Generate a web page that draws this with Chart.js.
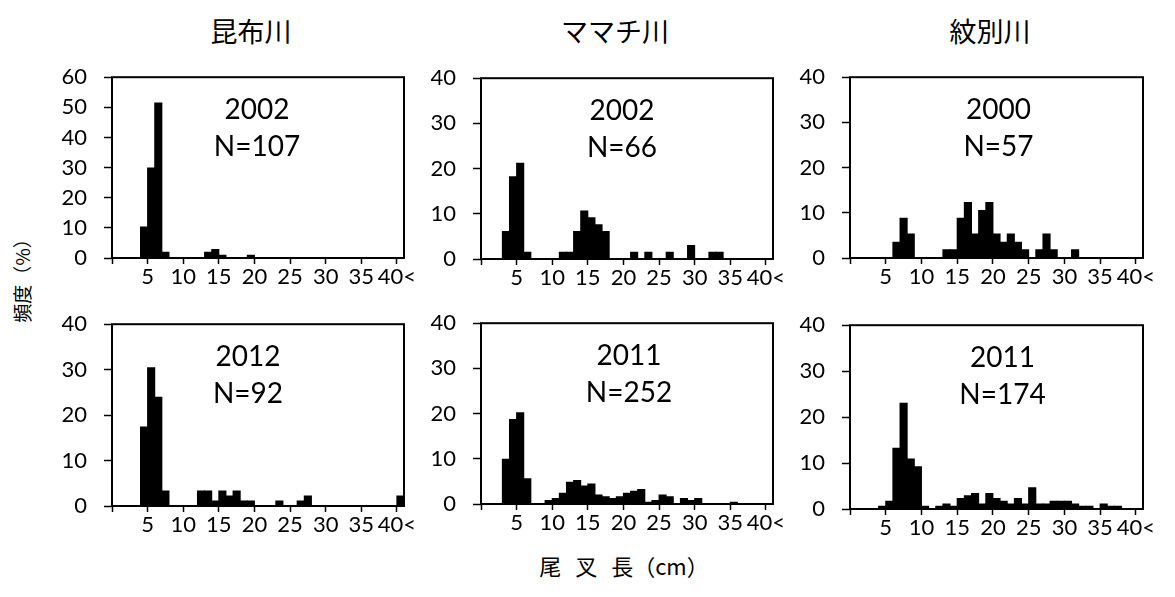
<!DOCTYPE html>
<html>
<head>
<meta charset="utf-8">
<script src="https://cdn.jsdelivr.net/npm/chart.js@4"></script>
<style>
body { margin: 0; background: #fff; width: 1175px; height: 597px; position: relative; overflow: hidden; font-family: "Noto Sans CJK JP", sans-serif; }
canvas { position: absolute; }
.t { position: absolute; color: #000; white-space: nowrap; transform: translate(-50%, -50%); line-height: 1; }
.yt { transform: translate(-50%, -50%) rotate(-90deg); }
</style>
</head>
<body>
<div class="t" style="left:251px;top:30px;font-size:27px">昆布川</div>
<div class="t" style="left:615px;top:30px;font-size:27px">ママチ川</div>
<div class="t" style="left:990px;top:30px;font-size:27px">紋別川</div>
<div class="t yt" style="left:21px;top:276px;font-size:19px">頻度（%）</div>
<div class="t" style="left:624px;top:565px;font-size:22px;word-spacing:9px">尾 叉 長（cm）</div>

<canvas id="c1"></canvas>
<canvas id="c2"></canvas>
<canvas id="c3"></canvas>
<canvas id="c4"></canvas>
<canvas id="c5"></canvas>
<canvas id="c6"></canvas>

<script>
// x axis: 41 bins of 1 cm, last one is "40<"
var xTicks = [0, 5, 10, 15, 20, 25, 30, 35, 40];
var xTickLabels = ['', '5', '10', '15', '20', '25', '30', '35', '40<'];

// 昆布川 2002, N=107 (%)
var konbu2002 = [0, 0, 0, 0, 10.3, 29.9, 51.4, 1.9, 0, 0, 0, 0, 0, 1.9, 2.8, 0.9, 0, 0, 0, 0.9,
    0, 0, 0, 0, 0, 0, 0, 0, 0, 0, 0, 0, 0, 0, 0, 0, 0, 0, 0, 0, 0];
// ママチ川 2002, N=66
var mamachi2002 = [0, 0, 0, 6.1, 18.2, 21.2, 1.5, 0, 0, 0, 0, 1.5, 1.5, 6.1, 10.6, 9.1, 7.6, 6.1, 0, 0,
    0, 1.5, 0, 1.5, 0, 0, 1.5, 0, 0, 3.0, 0, 0, 1.5, 1.5, 0, 0, 0, 0, 0, 0, 0];
// 紋別川 2000, N=57
var mombetsu2000 = [0, 0, 0, 0, 0, 0, 3.5, 8.8, 5.3, 0, 0, 0, 0, 1.8, 1.8, 8.8, 12.3, 5.3, 10.5, 12.3,
    5.3, 3.5, 5.3, 3.5, 1.8, 0, 1.8, 5.3, 1.8, 0, 0, 1.8, 0, 0, 0, 0, 0, 0, 0, 0, 0];
// 昆布川 2012, N=92
var konbu2012 = [0, 0, 0, 0, 17.4, 30.4, 23.9, 3.3, 0, 0, 0, 0, 3.3, 3.3, 1.1, 3.3, 2.2, 3.3, 1.1, 1.1,
    0, 0, 0, 1.1, 0, 0, 1.1, 2.2, 0, 0, 0, 0, 0, 0, 0, 0, 0, 0, 0, 0, 2.2];
// ママチ川 2011, N=252
var mamachi2011 = [0, 0, 0, 9.9, 18.7, 20.2, 5.6, 0, 0, 0.8, 1.2, 2.4, 4.8, 5.2, 4.0, 4.4, 2.0, 1.6, 1.2, 1.6,
    2.4, 2.8, 3.2, 0.4, 0.8, 2.0, 1.6, 0, 1.2, 0.8, 1.2, 0, 0, 0, 0, 0.4, 0, 0, 0, 0, 0];
// 紋別川 2011, N=174
var mombetsu2011 = [0, 0, 0, 0, 0.6, 1.7, 13.2, 23.0, 10.9, 9.2, 0.6, 0, 0.6, 1.1, 0.6, 2.3, 2.9, 3.4, 1.1, 3.4,
    2.3, 1.7, 1.1, 2.3, 1.1, 4.6, 1.1, 1.1, 1.7, 1.7, 1.7, 1.1, 0.6, 0.6, 0, 1.1, 0.6, 0.6, 0, 0, 0];

var years = ['2002', '2002', '2000', '2012', '2011', '2011'];
var counts = ['N=107', 'N=66', 'N=57', 'N=92', 'N=252', 'N=174'];
var series = [konbu2002, mamachi2002, mombetsu2000, konbu2012, mamachi2011, mombetsu2011];
var yMax = [60, 40, 40, 40, 40, 40];

// plot areas (left, top, right, bottom) and text offset
var panels = [
    { area: [112, 62, 404, 258], dx: -1 },
    { area: [481, 63, 773, 259], dx: -5 },
    { area: [850, 62, 1143, 258], dx: 2 },
    { area: [112, 309, 404, 506], dx: -10 },
    { area: [481, 308, 773, 504], dx: 2 },
    { area: [850, 310, 1143, 509], dx: 6 }
];

var numFont = 'Lato, "Liberation Sans", sans-serif';

var framePlugin = {
    id: 'frame',
    afterDraw: function (chart) {
        var a = chart.chartArea;
        var c = chart.ctx;
        var o = chart.options.plugins.frame;
        c.save();
        c.strokeStyle = '#000';
        c.lineWidth = 2;
        c.strokeRect(a.left, a.top, a.right - a.left, a.bottom - a.top);
        c.fillStyle = '#000';
        c.font = '28px ' + numFont;
        c.textAlign = 'center';
        c.textBaseline = 'middle';
        var cx = (a.left + a.right) / 2 + o.dx;
        c.fillText(o.year, cx, a.top + 33);
        c.fillText(o.n, cx, a.top + 70);
        c.restore();
    }
};

panels.forEach(function (p, k) {
    var L = p.area[0], T = p.area[1], R = p.area[2], B = p.area[3];
    var padL = 60, padT = 15, padR = 26, padB = 40;
    var cv = document.getElementById('c' + (k + 1));
    cv.width = (R + padR) - (L - padL);
    cv.height = (B + padB) - (T - padT);
    cv.style.left = (L - padL) + 'px';
    cv.style.top = (T - padT) + 'px';

    var pts = series[k].map(function (v, i) { return { x: i + 0.5, y: v }; });

    new Chart(cv, {
        type: 'bar',
        data: {
            datasets: [{
                data: pts,
                backgroundColor: '#000',
                borderWidth: 0,
                barPercentage: 1,
                categoryPercentage: 1,
                inflateAmount: 0.5
            }]
        },
        options: {
            responsive: false,
            animation: false,
            devicePixelRatio: 1,
            layout: { padding: { top: padT, right: padR, left: 0, bottom: 0 } },
            plugins: {
                legend: { display: false },
                tooltip: { enabled: false },
                frame: { year: years[k], n: counts[k], dx: p.dx }
            },
            scales: {
                x: {
                    type: 'linear',
                    min: 0,
                    max: 41,
                    offset: false,
                    afterBuildTicks: function (s) {
                        s.ticks = xTicks.map(function (v) { return { value: v }; });
                    },
                    afterFit: function (s) {
                        s.height = padB;
                        s.paddingLeft = 0;
                        s.paddingRight = 0;
                    },
                    ticks: {
                        autoSkip: false,
                        maxRotation: 0,
                        padding: 0,
                        color: '#000',
                        font: { family: numFont, size: 22 },
                        callback: function (v) {
                            var i = xTicks.indexOf(v);
                            return i < 0 ? '' : xTickLabels[i];
                        }
                    },
                    grid: { offset: false, drawOnChartArea: false, color: '#000', tickLength: 6, tickWidth: 1.5 },
                    border: { display: false }
                },
                y: {
                    min: 0,
                    max: yMax[k],
                    afterFit: function (s) { s.width = padL; },
                    ticks: {
                        stepSize: 10,
                        padding: 17,
                        color: '#000',
                        font: { family: numFont, size: 22 }
                    },
                    grid: { drawOnChartArea: false, color: '#000', tickLength: 8, tickWidth: 1.5 },
                    border: { display: false }
                }
            }
        },
        plugins: [framePlugin]
    });
});
</script>
</body>
</html>
